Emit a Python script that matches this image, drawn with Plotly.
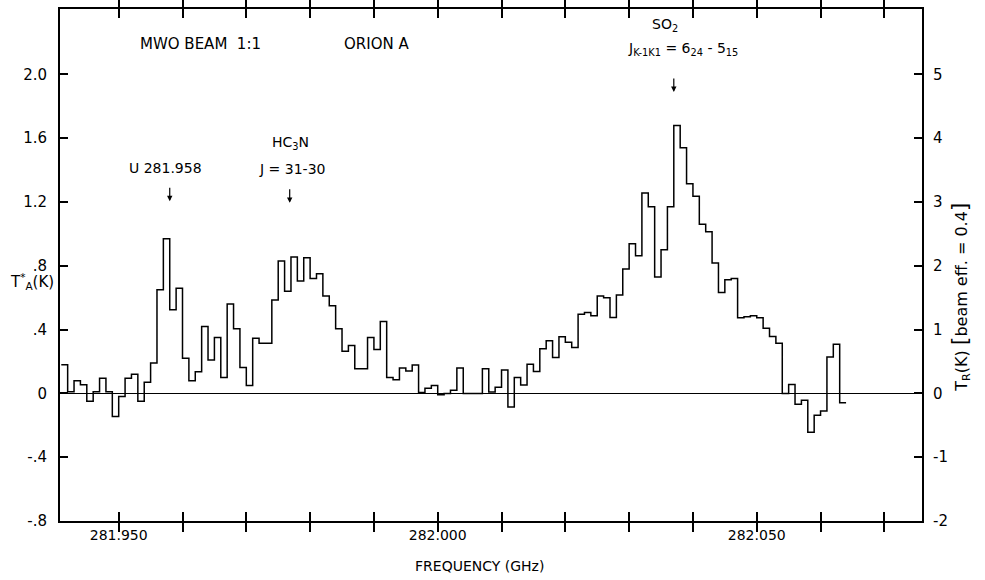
import plotly.graph_objects as go

# ---- data ----
start_freq_ghz = 281.9410      # left edge of first channel
channel_width_ghz = 0.001      # 1 MHz channels
ta_values = [
    0.18, 0.01, 0.08, 0.055, -0.05, 0.01, 0.095, 0.01, -0.145, -0.02,
    0.095, 0.12, -0.05, 0.07, 0.19, 0.65, 0.97, 0.525, 0.66, 0.22,
    0.08, 0.135, 0.42, 0.21, 0.35, 0.10, 0.56, 0.405, 0.163, 0.05,
    0.345, 0.315, 0.315, 0.585, 0.83, 0.64, 0.855, 0.705, 0.85, 0.72,
    0.75, 0.61, 0.55, 0.405, 0.265, 0.30, 0.155, 0.155, 0.35, 0.275,
    0.45, 0.099, 0.085, 0.16, 0.14, 0.178, 0.006, 0.033, 0.05, -0.008,
    0.0, 0.02, 0.16, 0.0, 0.0, 0.0, 0.155, 0.008, 0.038, 0.147,
    -0.085, 0.10, 0.053, 0.183, 0.138, 0.28, 0.33, 0.225, 0.355, 0.32,
    0.288, 0.497, 0.507, 0.487, 0.61, 0.60, 0.476, 0.617, 0.78, 0.938,
    0.863, 1.257, 1.17, 0.73, 0.90, 1.17, 1.68, 1.54, 1.315, 1.236,
    1.06, 1.014, 0.818, 0.633, 0.713, 0.72, 0.474, 0.48, 0.487, 0.474,
    0.408, 0.356, 0.315, 0.0, 0.056, -0.068, -0.043, -0.244, -0.137, -0.11,
    0.228, 0.308, -0.058,
]
beam_eff = 0.4

x_tick_vals = [281.950, 281.960, 281.970, 281.980, 281.990, 282.000, 282.010,
               282.020, 282.030, 282.040, 282.050, 282.060, 282.070]
x_tick_text = ["281.950", "", "", "", "", "282.000", "", "", "", "", "282.050", "", ""]
ya_tick_vals = [-0.8, -0.4, 0, 0.4, 0.8, 1.2, 1.6, 2.0]
ya_tick_text = ["-.8", "-.4", "0", ".4", ".8", "1.2", "1.6", "2.0"]
yr_tick_vals = [-2, -1, 0, 1, 2, 3, 4, 5]
yr_tick_text = ["-2", "-1", "0", "1", "2", "3", "4", "5"]

lines = [  # (label, rest frequency GHz)
    ("U281.958", 281.9580),
    ("HC3N", 281.9768),
    ("SO2", 282.0370),
]

# ---- build step outline ----
n = len(ta_values)
edges = [start_freq_ghz + i * channel_width_ghz for i in range(n + 1)]
xs = edges
ys = ta_values + [ta_values[-1]]
tr_vals = [v / beam_eff for v in ys]

FONT = "DejaVu Sans"
fig = go.Figure()
fig.add_trace(go.Scatter(x=xs, y=ys, mode="lines", line=dict(color="black", width=1.5, shape="hv"),
                         hoverinfo="skip", showlegend=False))
fig.add_trace(go.Scatter(x=xs, y=tr_vals, yaxis="y2", mode="lines", line=dict(width=0),
                         opacity=0, hoverinfo="skip", showlegend=False))

y_lo, y_hi = -0.8, 2.41
fig.update_layout(
    width=985, height=580,
    margin=dict(l=60, r=63, t=7, b=59),
    paper_bgcolor="white", plot_bgcolor="white",
    font=dict(family=FONT, color="black", size=14),
    xaxis=dict(range=[281.9408, 282.0759], tickvals=x_tick_vals, ticktext=x_tick_text,
               ticks="inside", ticklen=9, tickwidth=1.5, tickcolor="black",
               showline=True, linewidth=2, linecolor="black", mirror="allticks",
               showgrid=False, zeroline=False, tickfont=dict(size=14)),
    yaxis=dict(range=[y_lo, y_hi], tickvals=ya_tick_vals, ticktext=ya_tick_text,
               ticks="inside", ticklen=8, tickwidth=1.5, tickcolor="black",
               showline=True, linewidth=2, linecolor="black", mirror=True,
               showgrid=False, zeroline=True, zerolinecolor="black", zerolinewidth=1.2,
               ticklabelstandoff=8, tickfont=dict(size=15)),
    yaxis2=dict(range=[y_lo / beam_eff, y_hi / beam_eff], overlaying="y", side="right",
                tickvals=yr_tick_vals, ticktext=yr_tick_text,
                ticks="inside", ticklen=8, tickwidth=1.5, tickcolor="black",
                showline=True, linewidth=2, linecolor="black",
                showgrid=False, zeroline=False, ticklabelstandoff=6, tickfont=dict(size=15)),
)

ann = []
def txt(x, y, text, size=14, xref="x", yref="y", angle=0):
    ann.append(dict(x=x, y=y, xref=xref, yref=yref, text=text, showarrow=False,
                    font=dict(size=size, family=FONT, color="black"), textangle=angle,
                    xanchor="center", yanchor="middle"))

# header texts
txt(281.9628, 2.19, "MWO BEAM  1:1", size=15)
txt(281.9904, 2.19, "ORION A", size=15)
# line labels
txt(281.9574, 1.415, "U 281.958", size=14)
txt(281.9770, 1.57, "HC<sub>3</sub>N", size=14)
txt(281.9771, 1.41, "J = 31-30", size=14)
txt(282.0356, 2.31, "SO<sub>2</sub>", size=14)
txt(282.0384, 2.16, "J<sub>K-1K1</sub> = 6<sub>24</sub> - 5<sub>15</sub>", size=14)

# arrows
arrow_heads = {"U281.958": 1.205, "HC3N": 1.195, "SO2": 1.89}
for name, f in lines:
    ann.append(dict(x=f, y=arrow_heads[name], xref="x", yref="y", text="", showarrow=True,
                    ax=0, ay=-15, arrowhead=2, arrowsize=0.9, arrowwidth=1.2, arrowcolor="black"))

# axis titles
txt(-0.032, 0.70, "T<sup>*</sup><sub>A</sub>(K)", size=15, xref="paper")
txt(1.044, 0.605,
    "T<sub>R</sub>(K) <span style='font-size:22px'>[</span>beam eff. = 0.4<span style='font-size:22px'>]</span>",
    size=16, xref="paper", angle=-90)
ann.append(dict(x=(479 - 60) / 862, y=(521 - 566) / 514, xref="paper", yref="paper",
                text="FREQUENCY (GHz)", showarrow=False, font=dict(size=14, family=FONT, color="black"),
                xanchor="center", yanchor="middle"))
fig.update_layout(annotations=ann)

fig.write_html("out.html")
